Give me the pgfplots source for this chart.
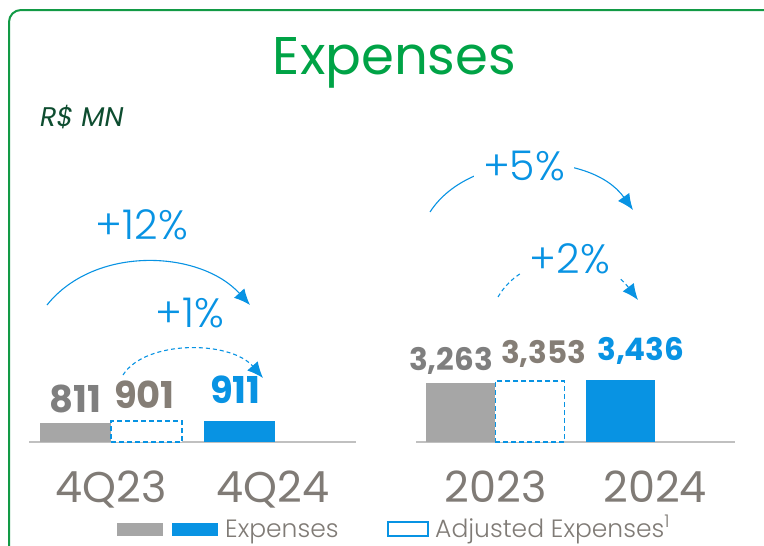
\documentclass[border=0pt]{standalone}
\usepackage{fontspec}
\setmainfont{Poppins}
\newfontfamily\plight{Poppins Light}
\usepackage{pgfplots}
\pgfplotsset{compat=1.18}
\usetikzlibrary{arrows.meta}
\definecolor{bgreen}{HTML}{129A45}
\definecolor{tgreen}{HTML}{00A346}
\definecolor{dgreen}{HTML}{0E4D30}
\definecolor{eblue}{HTML}{0893E3}
\definecolor{bgray}{HTML}{A6A6A6}
\definecolor{lgray}{HTML}{807B76}
\definecolor{ngray}{HTML}{7F7F7F}
\definecolor{wgray}{HTML}{857E76}
\definecolor{agray}{HTML}{C0C0C0}
\pgfplotsset{
  panel/.style={
    scale only axis, height=100pt, ymin=0, clip=false,
    axis x line*=bottom, hide y axis,
    x axis line style={draw=agray, line width=2pt, -},
    major tick length=0pt, xtick style={draw=none},
    xticklabel style={font=\fontsize{43}{43}\selectfont, text=lgray, anchor=base, yshift=-60pt, inner sep=0pt},
  },
  gbar/.style={ybar, bar width=71pt, bar shift=0pt, fill=bgray, draw=none},
  dbar/.style={ybar, bar width=71pt, bar shift=0pt, fill=white, draw=eblue, line width=1.6pt, dash pattern=on 5pt off 3pt},
  bbar/.style={ybar, bar width=71pt, bar shift=0pt, fill=eblue, draw=none},
  lab/.style 2 args={nodes near coords, point meta=explicit symbolic,
    nodes near coords style={anchor=base, inner sep=0pt, xshift=#1, yshift=#2}},
}
\begin{document}
\begin{tikzpicture}
% left panel
\begin{axis}[panel, at={(29pt,-442pt)}, anchor=south west, width=327pt,
  xmin=-0.64, xmax=3.9, ymax=4300,
  xtick={0.5,2.75}, xticklabels={4Q23,4Q24}]
\addplot[gbar, lab={0pt}{11pt}, nodes near coords style={font=\bfseries\fontsize{37}{37}\selectfont, text=ngray}] coordinates {(0,811) [811]};
\addplot[dbar, lab={-2pt}{13pt}, nodes near coords style={font=\bfseries\fontsize{37}{37}\selectfont, text=wgray, solid}] coordinates {(0.99,901) [901]};
\addplot[bbar, lab={-4pt}{17pt}, nodes near coords style={font=\bfseries\fontsize{37}{37}\selectfont, text=eblue}] coordinates {(2.28,911) [911]};
\end{axis}
% right panel
\begin{axis}[panel, at={(416pt,-442pt)}, anchor=south west, width=319pt,
  xmin=-0.636, xmax=3.92, ymax=5500,
  xtick={0.5,2.78}, xticklabels={2023,2024}]
\addplot[gbar, bar width=69pt, lab={-9.5pt}{11.7pt}, nodes near coords style={font=\bfseries\fontsize{31}{31}\selectfont, text=ngray}] coordinates {(0,3263) [{3,263}]};
\addplot[dbar, bar width=69pt, lab={14pt}{17.7pt}, nodes near coords style={font=\bfseries\fontsize{31}{31}\selectfont, text=wgray, solid}] coordinates {(0.99,3353) [{3,353}]};
\addplot[bbar, bar width=69pt, lab={20pt}{19.3pt}, nodes near coords style={font=\bfseries\fontsize{31}{31}\selectfont, text=eblue}] coordinates {(2.29,3436) [{3,436}]};
\end{axis}
\begin{scope}[x=1pt, y=-1pt]
% border
\draw[bgreen, line width=2pt, rounded corners=12pt] (9,10) rectangle (790,560);
% title
\node[anchor=base, inner sep=0pt, font=\fontsize{53}{53}\selectfont, text=tgreen] at (394.5,74) {Expenses};
\node[anchor=base west, inner sep=0pt, font=\itshape\fontsize{27}{27}\selectfont, text=dgreen] at (40,126) {R\$ MN};
% arrows
\draw[eblue, line width=1.1pt, -{Latex[length=16pt,width=14pt]}] (47,305) .. controls (95,245) and (200,250) .. (250,305);
\draw[eblue, line width=1.1pt, dash pattern=on 4pt off 3pt, -{Latex[length=16pt,width=14pt]}] (123,375) .. controls (145,340) and (230,340) .. (263,378);
\draw[eblue, line width=1.1pt, -{Latex[length=16pt,width=14pt]}] (430,212) .. controls (470,150) and (590,150) .. (633,210);
\draw[eblue, line width=1.1pt, dash pattern=on 4pt off 3pt, -{Latex[length=16pt,width=14pt]}] (498,297) .. controls (525,250) and (600,250) .. (638,300);
\node[anchor=base, inner sep=0pt, font=\plight\fontsize{41}{41}\selectfont, text=eblue] at (142,239) {+12\%};
\node[anchor=base, inner sep=0pt, font=\plight\fontsize{41}{41}\selectfont, text=eblue] at (190,327) {+1\%};
\node[anchor=base, inner sep=9pt, fill=white, font=\plight\fontsize{41}{41}\selectfont, text=eblue] at (524,180) {+5\%};
\node[anchor=base, inner sep=9pt, fill=white, font=\plight\fontsize{41}{41}\selectfont, text=eblue] at (570,273) {+2\%};
% legend
\fill[bgray] (117,523) rectangle (163,536);
\fill[eblue] (172,523) rectangle (218,536);
\node[anchor=base west, inner sep=0pt, font=\plight\fontsize{25}{25}\selectfont, text=lgray] at (225,537) {Expenses};
\draw[eblue, line width=2pt] (388,522) rectangle (428,536);
\node[anchor=base west, inner sep=0pt, font=\plight\fontsize{25}{25}\selectfont, text=lgray] at (435,537) {Adjusted Expenses\textsuperscript{1}};
\pgfresetboundingbox
\path[use as bounding box] (0,0) rectangle (764,546);
\end{scope}
\end{tikzpicture}
\end{document}
